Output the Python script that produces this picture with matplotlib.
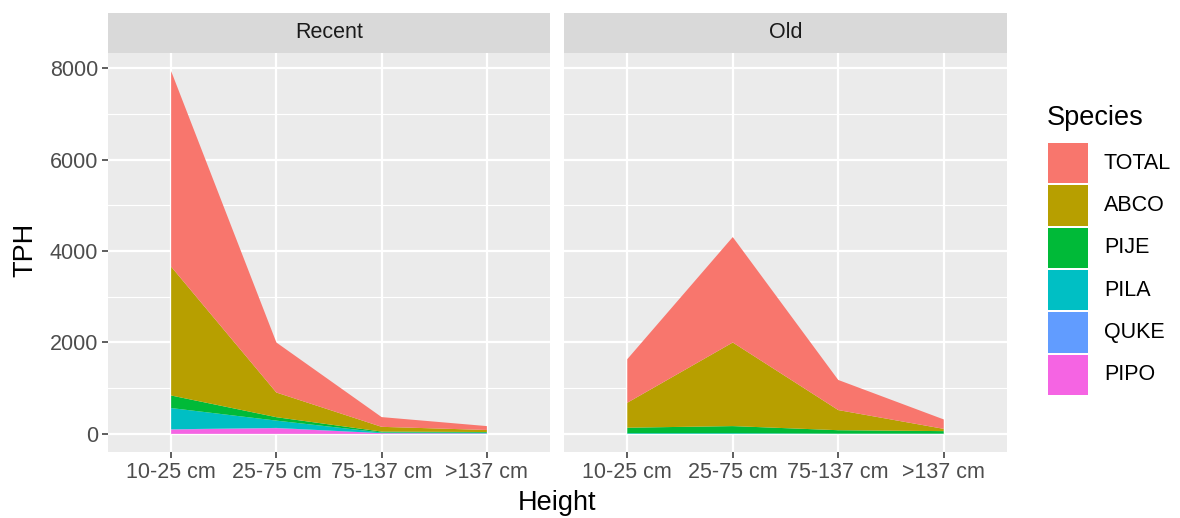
import matplotlib
matplotlib.use('Agg')
import matplotlib.pyplot as plt
import matplotlib.patches as mpatches
import numpy as np

plt.rcParams['font.family'] = ['Liberation Sans', 'DejaVu Sans']

heights = ["10-25 cm", "25-75 cm", "75-137 cm", ">137 cm"]
species = ["TOTAL", "ABCO", "PIJE", "PILA", "QUKE", "PIPO"]
colors = ["#F8766D", "#B79F00", "#00BA38", "#00BFC4", "#619CFF", "#F564E3"]
periods = ["Recent", "Old"]

# layer values (TPH) per height class
recent_total = [4280, 1095, 213, 85]
recent_abco = [2820, 540, 104, 45]
recent_pije = [275, 75, 20, 15]
recent_pila = [465, 160, 15, 15]
recent_quke = [5, 5, 0, 0]
recent_pipo = [95, 125, 15, 10]

old_total = [954, 2308, 659, 206]
old_abco = [546, 1830, 441, 50]
old_pije = [120, 155, 75, 55]
old_pila = [15, 15, 5, 5]
old_quke = [0, 0, 0, 0]
old_pipo = [0, 0, 0, 0]

data = {
    "Recent": [recent_total, recent_abco, recent_pije, recent_pila, recent_quke, recent_pipo],
    "Old": [old_total, old_abco, old_pije, old_pila, old_quke, old_pipo],
}

W, H = 1180, 518
fig = plt.figure(figsize=(W / 100, H / 100), dpi=100)
fig.patch.set_facecolor('white')

x = np.arange(1, len(heights) + 1)
ymax = max(np.sum(data[p], axis=0).max() for p in periods)
ylim = (-0.05 * ymax, 1.05 * ymax)

panels = [(108, 550), (564, 1007)]
p_top, p_bot = 53, 452
s_top = 13
tick_fs = 15.5
title_fs = 19.5

for i, (period, (x0, x1)) in enumerate(zip(periods, panels)):
    ax = fig.add_axes([x0 / W, 1 - p_bot / H, (x1 - x0) / W, (p_bot - p_top) / H])
    ax.set_facecolor('#EBEBEB')
    ax.set_xlim(0.4, len(heights) + 0.6)
    ax.set_ylim(*ylim)
    for yv in [1000, 3000, 5000, 7000]:
        ax.axhline(yv, color='white', lw=0.8, zorder=0)
    for yv in [0, 2000, 4000, 6000, 8000]:
        ax.axhline(yv, color='white', lw=1.6, zorder=0)
    for xv in x:
        ax.axvline(xv, color='white', lw=1.6, zorder=0)
    layers = data[period][::-1]
    ax.stackplot(x, *layers, colors=colors[::-1], lw=0, zorder=2)
    for s in ax.spines.values():
        s.set_visible(False)
    ax.set_xticks(x)
    ax.set_xticklabels(heights, fontsize=tick_fs, color='#4D4D4D')
    ax.set_yticks([0, 2000, 4000, 6000, 8000])
    if i == 0:
        ax.set_yticklabels(['0', '2000', '4000', '6000', '8000'], fontsize=tick_fs, color='#4D4D4D')
    else:
        ax.tick_params(axis='y', left=False, labelleft=False)
    ax.tick_params(axis='both', length=4, width=1.1, color='#333333', pad=3)

    sax = fig.add_axes([x0 / W, 1 - p_top / H, (x1 - x0) / W, (p_top - s_top) / H])
    sax.set_facecolor('#D9D9D9')
    sax.set_xticks([])
    sax.set_yticks([])
    for s in sax.spines.values():
        s.set_visible(False)
    sax.text(0.5, 0.5, period, ha='center', va='center', fontsize=tick_fs, color='#1A1A1A',
             transform=sax.transAxes)

fig.text(557 / W, 1 - 503 / H, "Height", ha='center', va='center', fontsize=title_fs)
fig.text(25 / W, 1 - 250 / H, "TPH", ha='center', va='center', fontsize=title_fs, rotation=90)

# legend
fig.text(1047 / W, 1 - 118 / H, "Species", ha='left', va='center', fontsize=title_fs)
key_top, key_h = 143, 42.3
for j, (sp, c) in enumerate(zip(species, colors)):
    ky = key_top + j * key_h
    fig.patches.append(mpatches.Rectangle((1048 / W, 1 - (ky + key_h - 2) / H), 40 / W, (key_h - 2) / H,
                                          transform=fig.transFigure, facecolor=c, edgecolor='none'))
    fig.text(1104 / W, 1 - (ky + key_h / 2 - 1) / H, sp, ha='left', va='center', fontsize=tick_fs)

plt.savefig("out.png", dpi=100, facecolor=fig.get_facecolor())
plt.close(fig)
